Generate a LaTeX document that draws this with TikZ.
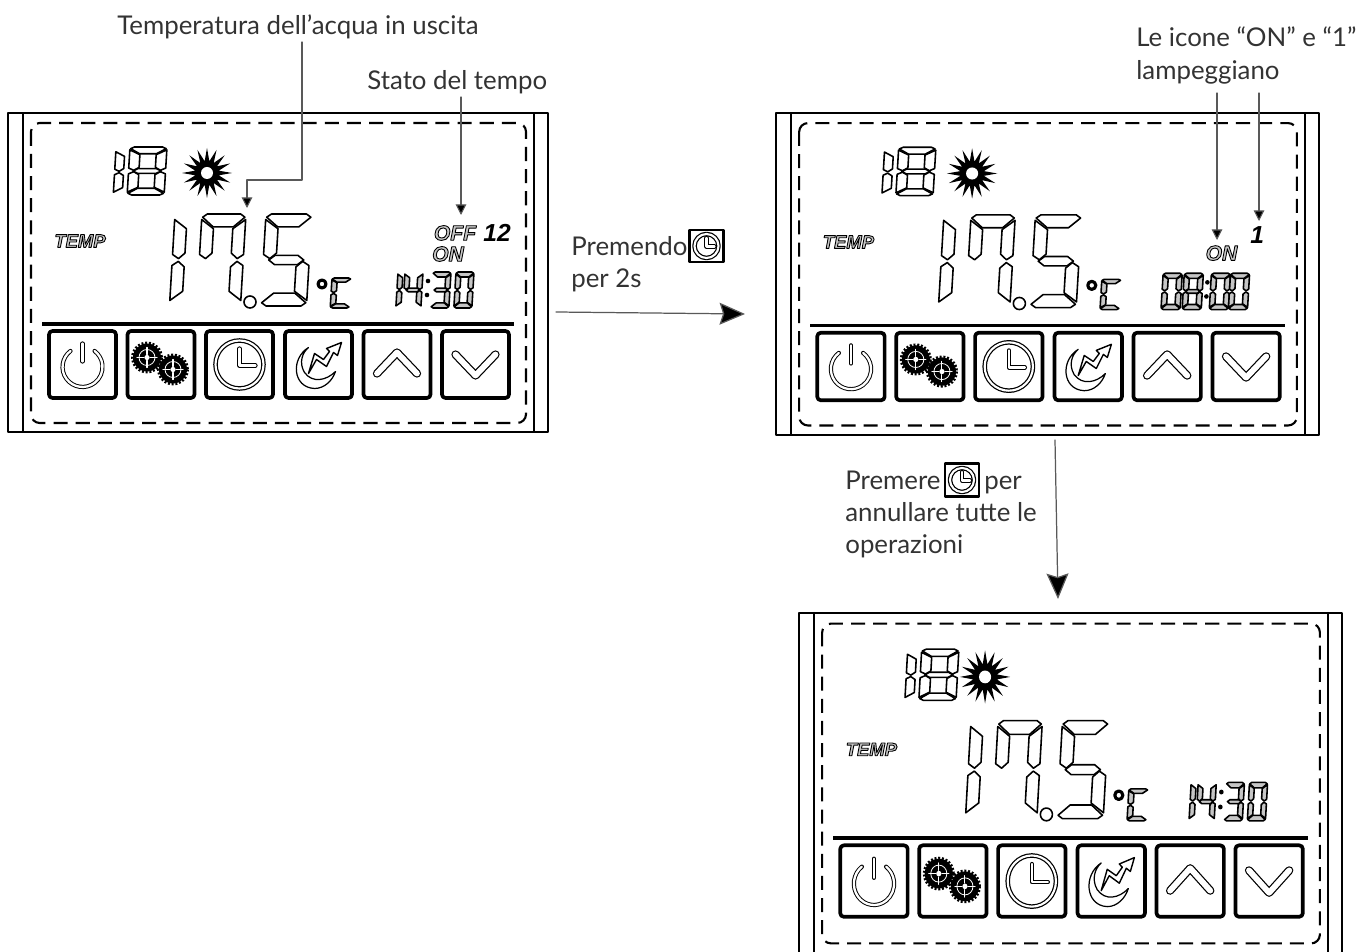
\documentclass[tikz,border=0pt]{standalone}
\usepackage{fontspec}
\setmainfont{Lato}
\newfontfamily\lcdfont{Liberation Sans}
\usetikzlibrary{arrows.meta}
\definecolor{inkgray}{HTML}{333333}
\newcommand{\lcdoutline}[1]{\textcolor{gray!45}{\special{pdf:code 2 Tr 0.5 w 0 0 0 RG}#1\special{pdf:code 0 Tr}}}
\tikzset{
	lcdseg/.style={draw=black,fill=white,line width=0.9pt,line join=round},
	btnframe/.style={draw=black,line width=2.1pt,rounded corners=2pt},
	iconline/.style={double=white,draw=black,line width=0.55pt,double distance=1.3pt,line cap=round},
	chevron/.style={double=white,draw=black,line width=0.7pt,double distance=3.3pt,line cap=round,line join=round},
	note/.style={anchor=base west,inner sep=0pt,text=inkgray,font=\fontsize{14.7}{18}\selectfont},
	lcdword/.style={inner sep=0pt,font=\lcdfont\bfseries\itshape\fontsize{12}{14}\selectfont},
	lcdnum/.style={inner sep=0pt,font=\lcdfont\bfseries\itshape\fontsize{14}{16}\selectfont},
	leader/.style={draw=gray!70!black,line width=0.6pt,-{Stealth[length=6pt,width=6pt,inset=0pt,fill=black]}},
	flow/.style={draw=gray!70!black,line width=0.7pt,-{Stealth[length=14.5pt,width=12.5pt,inset=2pt,fill=black]}}
}
\def\lcdsega{(.12,0)--(.88,0)--(.98,.07)--(.73,.28)--(.27,.28)--(.02,.07)--cycle}
\def\lcdsegb{(1,.12)--(.72,.32)--(.72,.85)--(.86,.97)--(1,.88)--cycle}
\def\lcdsegc{(1,1.12)--(.86,1.03)--(.72,1.15)--(.72,1.68)--(1,1.88)--cycle}
\def\lcdsegd{(.27,1.72)--(.73,1.72)--(.98,1.93)--(.88,2)--(.12,2)--(.02,1.93)--cycle}
\def\lcdsege{(0,1.12)--(.14,1.03)--(.28,1.15)--(.28,1.68)--(0,1.88)--cycle}
\def\lcdsegf{(0,.12)--(.28,.32)--(.28,.85)--(.14,.97)--(0,.88)--cycle}
\def\lcdsegg{(.12,1)--(.25,.9)--(.75,.9)--(.88,1)--(.75,1.1)--(.25,1.1)--cycle}
% x, y, unit width, unit height, segments
\newcommand{\lcddigit}[5]{
	\begin{scope}[shift={(#1,#2)},xslant=.06,xscale=#3,yscale=#4]
		\foreach \s in {#5} {\expandafter\let\expandafter\lcdp\csname lcdseg\s\endcsname \draw[lcdseg] \lcdp;}
	\end{scope}
}
\newcommand{\iconpower}{
	\draw[iconline] (-12,-13.5) arc[start angle=-127,end angle=-413,radius=20];
	\draw[iconline] (0,-21)--(0,-3);
}
\newcommand{\icongear}[2]{
	\begin{scope}[shift={(#1,#2)}]
		\fill circle (14);
		\draw[line width=1.6pt,dash pattern=on 1.1pt off 1pt,line cap=butt] circle (14.5);
		\draw[white,line width=0.45pt] circle (8);
		\draw[white,line width=0.6pt] (-10,0)--(-3,0) (3,0)--(10,0) (0,-10)--(0,-3) (0,3)--(0,10);
		\fill[white] circle (2.6);
	\end{scope}
}
\newcommand{\iconclock}[1]{
	\begin{scope}[scale=#1]
		\draw[line width=0.7pt,double=white,double distance=1.2pt] circle (24);
		\draw[iconline] (0,-16)--(0,1)--(16,1);
	\end{scope}
}
\newcommand{\icongraph}{
	\draw[fill=white,line width=0.7pt] (-10,-17) .. controls (-28,-6) and (-26,23) .. (-4,24) .. controls (6,24) and (14,16) .. (17,7) .. controls (8,16) and (-6,19) .. (-14,8) .. controls (-20,-2) and (-16,-12) .. (-10,-17) -- cycle;
	\draw[fill=white,line width=0.8pt] (-10,9)--(-4,-11)--(5,-5)--(11,-13)--(8,-16)--(23,-22)--(19,-9)--(15,-12)--(8,2)--(-2,-5)--cycle;
}
\newcommand{\lcdbutton}[2]{
	\begin{scope}[shift={(#1,364.5)}]
		\draw[btnframe] (-33.5,-33.5) rectangle (33.5,33.5);
		#2
	\end{scope}
}
\newcommand{\timeA}{
	\begin{scope}[lcdseg/.append style={fill=gray!45}]
		\lcddigit{398}{272}{18}{18}{f,e}
		\lcddigit{405}{272}{18}{18}{f,g,b,c}
		\fill (428,281) circle (2.3) (427,295) circle (2.3);
		\lcddigit{433}{272}{18}{18}{a,b,g,c,d}
		\lcddigit{456}{272}{18}{18}{a,b,c,d,e,f}
	\end{scope}
}
\newcommand{\timeB}{
	\begin{scope}[lcdseg/.append style={fill=gray!45}]
		\lcddigit{393}{272}{19}{18}{a,b,c,d,e,f}
		\lcddigit{414}{272}{19}{18}{a,b,c,d,e,f,g}
		\fill (437,281) circle (2.3) (436,295) circle (2.3);
		\lcddigit{441}{272}{19}{18}{a,b,c,d,e,f}
		\lcddigit{460}{272}{19}{18}{a,b,c,d,e,f}
	\end{scope}
}
% shift x, shift y, xscale, yscale, sun x, big digits dx, extras
\newcommand{\lcdpanel}[7]{
	\begin{scope}[shift={(#1,#2)},xscale=#3,yscale=#4]
		\draw[line width=1.1pt] (8,113) rectangle (548,432);
		\draw[line width=1.1pt] (23,113)--(23,432) (534,113)--(534,432);
		\draw[line width=1.2pt,line cap=butt,dash pattern=on 8pt off 4.6pt,rounded corners=5pt] (31,123) rectangle (526,423);
		\lcddigit{116}{149}{32}{23}{f,e}
		\lcddigit{130}{147}{37}{24}{a,b,c,d,e,f,g}
		\begin{scope}[shift={(#5,173)}]
			\fill plot[domain=0:31,samples=32] ({(mod(\x,2)==0?25:12)*cos(\x*11.25)},{(mod(\x,2)==0?25:12)*sin(\x*11.25)}) -- cycle;
			\fill[white] circle (6);
		\end{scope}
		\node[lcdword,font=\lcdfont\bfseries\itshape\fontsize{10.5}{12}\selectfont] (temp#1) at (80,241) {\lcdoutline{TEMP}};
		\begin{scope}[shift={(#6,0)}]
			\lcddigit{175}{214}{44}{46}{f,e}
			\lcddigit{202}{214}{44}{46}{a,b,c,f}
			\draw[line width=0.9pt] (250,302) circle (6);
			\lcddigit{266}{214}{46}{46}{a,f,g,c,d}
			\draw[line width=1.8pt] (322,284) circle (4);
			\begin{scope}[lcdseg/.append style={fill=gray!45}]
				\lcddigit{332}{278}{19}{15}{a,f,e,d}
			\end{scope}
		\end{scope}
		#7
		\draw[line width=1.9pt,line cap=butt] (42,324)--(514,324);
		\lcdbutton{82.5}{\iconpower}
		\lcdbutton{161}{\icongear{-14}{-7}\icongear{12}{5}}
		\lcdbutton{239.5}{\iconclock{1}}
		\lcdbutton{318.5}{\icongraph}
		\lcdbutton{397}{\draw[chevron] (-20,9)--(0,-12)--(20,9);}
		\lcdbutton{475.5}{\draw[chevron] (-20,-10)--(0,11)--(20,-10);}
	\end{scope}
}
\begin{document}
\begin{tikzpicture}[x=0.02cm,y=-0.02cm,line join=round,line cap=round,>=stealth]
	\useasboundingbox (0,0) rectangle (1370,952);
	\lcdpanel{0}{0}{1}{1}{207}{0}{
		\node[lcdword] (off) at (455,233) {\lcdoutline{OFF}};
		\node[lcdnum] (twelve) at (497,233) {12};
		\node[lcdword] (onA) at (448,254) {\lcdoutline{ON}};
		\timeA
	}
	\lcdpanel{768}{-0.9}{1.0055}{1.008}{203}{0}{
		\node[lcdword] (onB) at (451,252) {\lcdoutline{ON}};
		\node[lcdnum] (one) at (486.5,234) {1};
		\timeB
	}
	\lcdpanel{791}{492.5}{1.0055}{1.066}{193}{4}{
		\timeA
	}
	\node[note] (acqua) at (117,35) {Temperatura dell’acqua in uscita};
	\node[note] (stato) at (367,90) {Stato del tempo};
	\node[note] (icone) at (1136,47) {Le icone “ON” e “1”};
	\node[note] (lamp) at (1136,80) {lampeggiano};
	\node[note] (premendo) at (571,256) {Premendo};
	\node[note] (duesec) at (571,288) {per 2s};
	\node[note] (premere) at (845,490) {Premere};
	\node[note] (per) at (984,490) {per};
	\node[note] (annullare) at (845,522) {annullare tutte le};
	\node[note] (operazioni) at (845,554) {operazioni};
	\begin{scope}[shift={(706.5,246)}]
		\draw[line width=1.2pt] (-17,-16) rectangle (17,16);
		\iconclock{0.5}
	\end{scope}
	\begin{scope}[shift={(962,480)}]
		\draw[line width=1.2pt] (-17,-16.5) rectangle (17,16.5);
		\iconclock{0.5}
	\end{scope}
	\coordinate (acquaS) at (302,42);
	\coordinate (acquaK) at (302,180);
	\coordinate (acquaT) at (247,208);
	\coordinate (statoS) at (461,97);
	\coordinate (statoT) at (461,215);
	\coordinate (lampA) at (1217,93);
	\coordinate (lampAT) at (1217,240);
	\coordinate (lampB) at (1259,93);
	\coordinate (lampBT) at (1259,221);
	\coordinate (flowA) at (556,312);
	\coordinate (flowAT) at (745,314);
	\coordinate (flowB) at (1055,440);
	\coordinate (flowBT) at (1058,599);
	\draw[leader] (acquaS)--(acquaK)-|(acquaT);
	\draw[leader] (statoS)--(statoT);
	\draw[leader] (lampA)--(lampAT);
	\draw[leader] (lampB)--(lampBT);
	\draw[flow] (flowA)--(flowAT);
	\draw[flow] (flowB)--(flowBT);
\end{tikzpicture}
\end{document}
